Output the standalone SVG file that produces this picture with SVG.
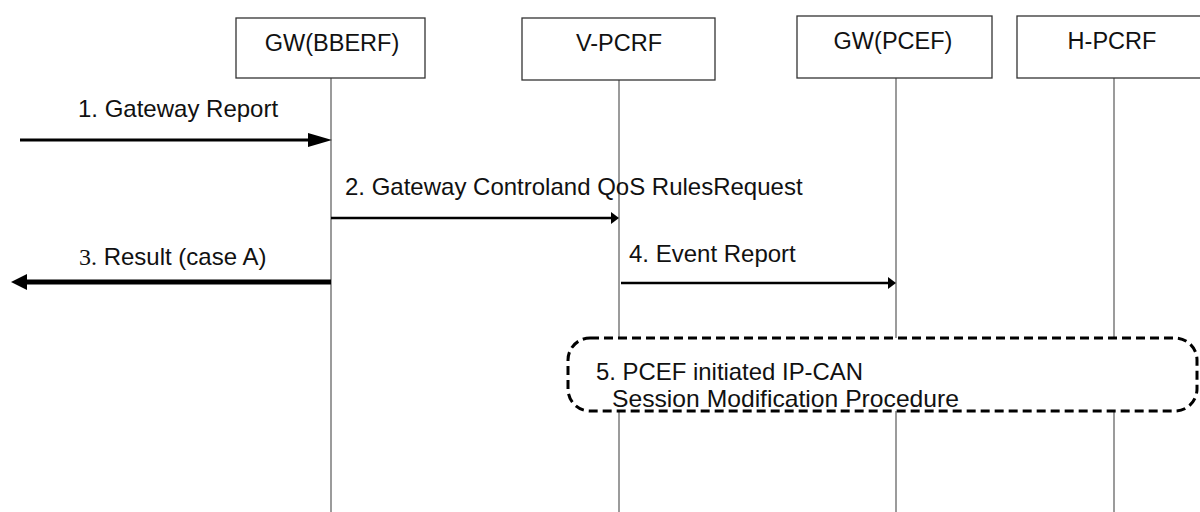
<svg xmlns="http://www.w3.org/2000/svg" width="1200" height="512" viewBox="0 0 1200 512">
<style>
.box{fill:#fff;stroke:#333;stroke-width:1.3}
.life{stroke:#7a7a7a;stroke-width:1.5}
.hdr{font-family:"Liberation Sans",Arial,sans-serif;font-size:23.5px;fill:#111;text-anchor:middle}
.lbl{font-family:"Liberation Sans",Arial,sans-serif;font-size:24px;fill:#111}
.msg{stroke:#000;fill:none}
</style>
<g id="lifelines">
<line class="life" x1="331" y1="78" x2="331" y2="512"/>
<line class="life" x1="619" y1="80" x2="619" y2="512"/>
<line class="life" x1="896" y1="78" x2="896" y2="512"/>
<line class="life" x1="1114" y1="78" x2="1114" y2="512"/>
</g>
<g id="n-bberf"><rect class="box" x="236" y="18" width="189" height="60"/><text class="hdr" x="332" y="51">GW(BBERF)</text></g>
<g id="n-vpcrf"><rect class="box" x="522" y="18" width="193" height="62"/><text class="hdr" x="619" y="51">V-PCRF</text></g>
<g id="n-pcef"><rect class="box" x="797" y="16" width="195" height="62"/><text class="hdr" x="893" y="49">GW(PCEF)</text></g>
<g id="n-hpcrf"><rect class="box" x="1017" y="16" width="200" height="62"/><text class="hdr" x="1112" y="49">H-PCRF</text></g>
<g id="connectors">
<line class="msg" x1="20" y1="140" x2="310" y2="140" stroke-width="3"/>
<polygon points="308,133 332,140 308,147" fill="#000"/>
<line class="msg" x1="331" y1="218" x2="613" y2="218" stroke-width="2.5"/>
<polygon points="611,212 619,218 611,224" fill="#000"/>
<line class="msg" x1="331" y1="282" x2="26" y2="282" stroke-width="5"/>
<polygon points="27,274 11,282 27,290" fill="#000"/>
<line class="msg" x1="621" y1="283" x2="890" y2="283" stroke-width="2.5"/>
<polygon points="888,277 896,283 888,289" fill="#000"/>
</g>
<g id="labels">
<text class="lbl" x="78" y="117">1. Gateway Report</text>
<text class="lbl" x="345" y="195">2. Gateway Controland QoS RulesRequest</text>
<text class="lbl" x="79" y="265"><tspan font-family="Liberation Serif,serif">3.</tspan> Result (case A)</text>
<text class="lbl" x="629" y="262">4. Event Report</text>
</g>
<g id="n-step5">
<rect x="568" y="338" width="629" height="73" rx="22" fill="#fff" stroke="#000" stroke-width="3" stroke-dasharray="9 5"/>
<text class="lbl" x="596" y="380" font-size="25" textLength="267" lengthAdjust="spacingAndGlyphs">5. PCEF initiated IP-CAN</text>
<text class="lbl" x="612" y="407" font-size="25" textLength="347" lengthAdjust="spacingAndGlyphs">Session Modification Procedure</text>
</g>
</svg>
